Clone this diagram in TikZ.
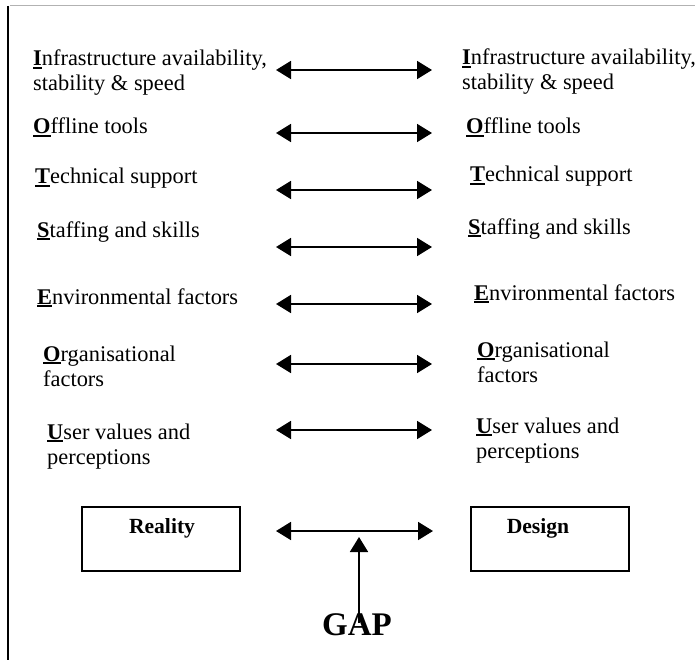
\documentclass[tikz,border=0pt]{standalone}
\usepackage{fontspec}
\setmainfont{Liberation Serif}
\usetikzlibrary{arrows.meta}
\newcommand\firstl[1]{\setbox0\hbox{\textbf{#1}}\rlap{\rule[-2.8pt]{\wd0}{1.7pt}}\box0}
\newcommand\twol[2]{\begin{tabular}[t]{@{}l@{}}#1\\#2\end{tabular}}
\begin{document}
\begin{tikzpicture}[x=1pt,y=-1pt,
  lbl/.style={anchor=base west,inner sep=0pt,font=\fontsize{22.4}{25}\selectfont},
  boxn/.style={draw,line width=1.6pt,minimum width=158pt,minimum height=64pt,inner sep=0pt},
  bt/.style={anchor=base,inner sep=0pt,font=\fontsize{21.6}{25}\selectfont\bfseries},
  dbl/.style={{Triangle[length=15pt,width=18pt]}-{Triangle[length=15pt,width=18pt]},line width=1.8pt},
  upar/.style={-{Triangle[length=15pt,width=18pt]},line width=1.8pt}]
\useasboundingbox (0,0) rectangle (695,660);
\draw[black!30,line width=1pt] (10,6) -- (695,6);
\draw[line width=1.3pt] (8,6) -- (8,660);
% left labels
\node[lbl] (l1) at (33,66) {\twol{\firstl{I}nfrastructure availability,}{stability \& speed}};
\node[lbl] (l2) at (33,134) {\firstl{O}ffline tools};
\node[lbl] (l3) at (35,184) {\firstl{T}echnical support};
\node[lbl] (l4) at (37,237) {\firstl{S}taffing and skills};
\node[lbl] (l5) at (37,304) {\firstl{E}nvironmental factors};
\node[lbl] (l6) at (43,361) {\twol{\firstl{O}rganisational}{factors}};
\node[lbl] (l7) at (47,439) {\twol{\firstl{U}ser values and}{perceptions}};
% right labels
\node[lbl] (r1) at (462,65) {\twol{\firstl{I}nfrastructure availability,}{stability \& speed}};
\node[lbl] (r2) at (466,134) {\firstl{O}ffline tools};
\node[lbl] (r3) at (470,182) {\firstl{T}echnical support};
\node[lbl] (r4) at (468,234) {\firstl{S}taffing and skills};
\node[lbl] (r5) at (474,300) {\firstl{E}nvironmental factors};
\node[lbl] (r6) at (477,357) {\twol{\firstl{O}rganisational}{factors}};
\node[lbl] (r7) at (476,433) {\twol{\firstl{U}ser values and}{perceptions}};
% arrows
\foreach \i/\yy in {1/70,2/133,3/190,4/247,5/304,6/364,7/430}{
  \coordinate (al\i) at (276,\yy);
  \coordinate (ar\i) at (432,\yy);
  \draw[dbl] (al\i) -- (ar\i);
}
% boxes
\node[boxn] (real) at (161,539) {};
\node[boxn] (des) at (550,539) {};
\node[bt] (realt) at (162,533) {Reality};
\node[bt] (dest) at (538,533) {Design};
\coordinate (gl) at (276,531);
\coordinate (gr) at (433,531);
\draw[dbl] (gl) -- (gr);
\node[anchor=base,inner sep=0pt,font=\fontsize{33}{36}\selectfont\bfseries] (gap) at (357,635) {GAP};
\coordinate (gb) at (359,623);
\coordinate (gt) at (359,537);
\draw[upar] (gb) -- (gt);
\end{tikzpicture}
\end{document}
